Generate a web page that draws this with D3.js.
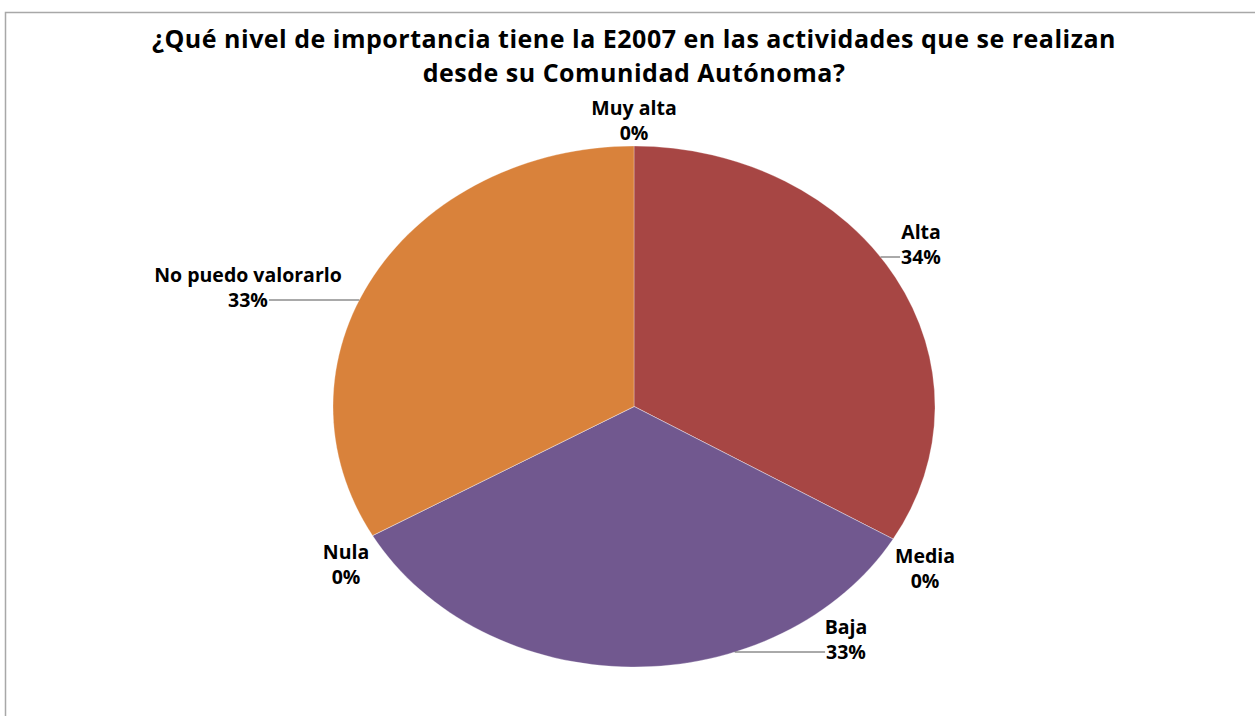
<!DOCTYPE html>
<html>
<head>
<meta charset="utf-8">
<script src="https://cdn.jsdelivr.net/npm/d3@7"></script>
<style>
  body { margin: 0; background: #fff; }
  text { font-family: "Open Sans", Lato, sans-serif; font-weight: bold; fill: #000; }
</style>
</head>
<body>
<svg width="1255" height="716"></svg>
<script>
const categories = ["Muy alta", "Alta", "Media", "Baja", "Nula", "No puedo valorarlo"];
// shares (the three visible ones are close to a third each)
const values = [0, 33.5, 0, 33.25, 0, 33.25];
const colors = ["#4F81BD", "#A74644", "#9BBB59", "#71588F", "#4BACC6", "#D9823B"];
const titleLines = [
  "¿Qué nivel de importancia tiene la E2007 en las actividades que se realizan",
  "desde su Comunidad Autónoma?"
];

const W = 1255, H = 716;
const cx = 634, cy = 406.5, rx = 301, ry = 260.5;

// where Excel put each data label (center x, baseline of first line) and which side the leader goes
const labelPos = {
  "Muy alta": { x: 634, y: 115 },
  "Alta": { x: 921, y: 239, leader: "left" },
  "Media": { x: 925, y: 563 },
  "Baja": { x: 846, y: 634, leader: "left" },
  "Nula": { x: 346, y: 559 },
  "No puedo valorarlo": { x: 248, y: 282, leader: "right" }
};

const svg = d3.select("svg");

// chart frame
svg.append("rect")
  .attr("x", 5.5).attr("y", 12.5)
  .attr("width", W).attr("height", H)
  .attr("fill", "none")
  .attr("stroke", "#a8a8a8")
  .attr("stroke-width", 1.5);

// title
svg.append("g").selectAll("text")
  .data(titleLines)
  .enter().append("text")
  .attr("x", cx)
  .attr("y", (d, i) => 47.5 + i * 34.5)
  .attr("text-anchor", "middle")
  .style("font-size", "25px")
  .style("letter-spacing", "0.5px")
  .text(d => d);

const data = categories.map((c, i) => ({ name: c, value: values[i], color: colors[i] }));

const pie = d3.pie().sort(null).value(d => d.value);
const arc = d3.arc().innerRadius(0).outerRadius(rx);

// pie drawn as a circle and squashed into an ellipse
svg.append("g")
  .attr("transform", `translate(${cx},${cy}) scale(1,${ry / rx})`)
  .selectAll("path")
  .data(pie(data))
  .enter().append("path")
  .attr("d", arc)
  .attr("fill", d => d.data.color)
  .attr("stroke", "#fff")
  .attr("stroke-opacity", 0.35)
  .attr("stroke-width", 0.8)
  .attr("vector-effect", "non-scaling-stroke");

// labels
const lbl = svg.append("g").selectAll("g")
  .data(data)
  .enter().append("g");

lbl.append("text")
  .attr("x", d => labelPos[d.name].x)
  .attr("y", d => labelPos[d.name].y)
  .attr("text-anchor", "middle")
  .style("font-size", "19.5px")
  .text(d => d.name);

lbl.append("text")
  .attr("class", "pct")
  .attr("x", d => labelPos[d.name].x)
  .attr("y", d => labelPos[d.name].y + 25)
  .attr("text-anchor", "middle")
  .style("font-size", "19.5px")
  .text(d => Math.round(d.value) + "%");

// leader lines: horizontal, from the edge of the ellipse to the percent text
lbl.each(function(d) {
  const p = labelPos[d.name];
  if (!p.leader) return;
  const t = d3.select(this).select(".pct").node().getBBox();
  const ly = p.y + 18;
  const k = Math.sqrt(Math.max(0, 1 - Math.pow((ly - cy) / ry, 2)));
  let x1, x2;
  if (p.leader === "left") {
    x2 = t.x - 1;
    x1 = cx + rx * k;
  } else {
    x2 = t.x + t.width + 1;
    x1 = cx - rx * k;
  }
  d3.select(this).append("line")
    .attr("x1", x1).attr("x2", x2)
    .attr("y1", ly).attr("y2", ly)
    .attr("stroke", "#555")
    .attr("stroke-width", 1);
});
</script>
</body>
</html>
